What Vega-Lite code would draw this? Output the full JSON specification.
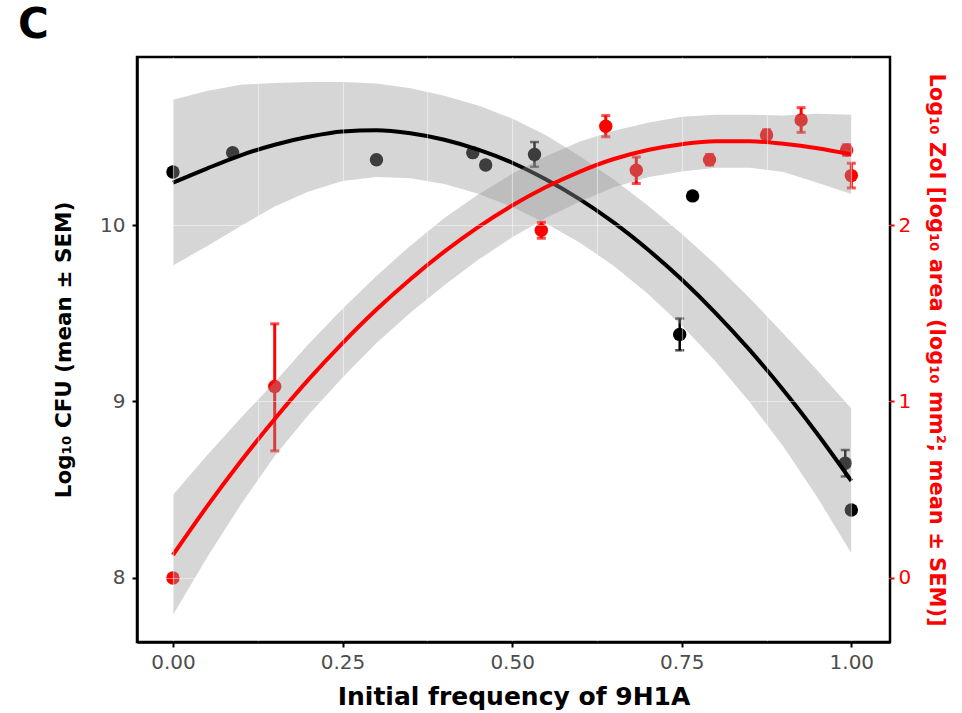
{
  "$schema": "https://vega.github.io/schema/vega-lite/v6.json",
  "width": 753,
  "height": 585,
  "autosize": "none",
  "padding": {"left": 137, "top": 57, "right": 72, "bottom": 71},
  "background": "white",
  "title": {"text": "C", "anchor": "start", "frame": "group", "fontSize": 42, "fontWeight": "bold", "font": "DejaVu Sans", "color": "#000000", "dx": -119, "dy": 40, "offset": 17, "baseline": "alphabetic"},
  "config": {"view": {"stroke": "#000000", "strokeWidth": 2.5}, "font": "DejaVu Sans"},
  "datasets": {
    "cfu_pts": [
      {"x": 0, "cfu": 10.30, "lo": 10.28, "hi": 10.32},
      {"x": 0.088, "cfu": 10.41, "lo": 10.39, "hi": 10.43},
      {"x": 0.30, "cfu": 10.37, "lo": 10.35, "hi": 10.39},
      {"x": 0.442, "cfu": 10.41, "lo": 10.39, "hi": 10.43},
      {"x": 0.461, "cfu": 10.34, "lo": 10.32, "hi": 10.36},
      {"x": 0.533, "cfu": 10.40, "lo": 10.33, "hi": 10.47},
      {"x": 0.747, "cfu": 9.38, "lo": 9.29, "hi": 9.47},
      {"x": 0.766, "cfu": 10.165, "lo": 10.145, "hi": 10.185},
      {"x": 0.991, "cfu": 8.65, "lo": 8.575, "hi": 8.725},
      {"x": 1.0, "cfu": 8.385, "lo": 8.365, "hi": 8.405}
    ],
    "zoi_pts": [
      {"x": 0, "zoi": 0.0, "lo": -0.02, "hi": 0.02},
      {"x": 0.15, "zoi": 1.085, "lo": 0.72, "hi": 1.44},
      {"x": 0.543, "zoi": 1.97, "lo": 1.925, "hi": 2.015},
      {"x": 0.638, "zoi": 2.56, "lo": 2.50, "hi": 2.62},
      {"x": 0.683, "zoi": 2.31, "lo": 2.235, "hi": 2.385},
      {"x": 0.791, "zoi": 2.37, "lo": 2.34, "hi": 2.40},
      {"x": 0.875, "zoi": 2.51, "lo": 2.48, "hi": 2.54},
      {"x": 0.926, "zoi": 2.595, "lo": 2.525, "hi": 2.665},
      {"x": 0.993, "zoi": 2.425, "lo": 2.395, "hi": 2.455},
      {"x": 1.0, "zoi": 2.28, "lo": 2.21, "hi": 2.35}
    ],
    "fit": [
      {"x": 0.00, "cfu": 10.240, "cfu_lo": 9.770, "cfu_hi": 10.710, "zoi": 0.130, "zoi_lo": -0.210, "zoi_hi": 0.470},
      {"x": 0.05, "cfu": 10.320, "cfu_lo": 9.880, "cfu_hi": 10.760, "zoi": 0.404, "zoi_lo": 0.114, "zoi_hi": 0.694},
      {"x": 0.10, "cfu": 10.395, "cfu_lo": 9.995, "cfu_hi": 10.795, "zoi": 0.661, "zoi_lo": 0.416, "zoi_hi": 0.906},
      {"x": 0.15, "cfu": 10.455, "cfu_lo": 10.105, "cfu_hi": 10.805, "zoi": 0.901, "zoi_lo": 0.691, "zoi_hi": 1.111},
      {"x": 0.20, "cfu": 10.500, "cfu_lo": 10.190, "cfu_hi": 10.810, "zoi": 1.125, "zoi_lo": 0.925, "zoi_hi": 1.325},
      {"x": 0.25, "cfu": 10.530, "cfu_lo": 10.250, "cfu_hi": 10.810, "zoi": 1.331, "zoi_lo": 1.136, "zoi_hi": 1.526},
      {"x": 0.30, "cfu": 10.537, "cfu_lo": 10.272, "cfu_hi": 10.802, "zoi": 1.521, "zoi_lo": 1.331, "zoi_hi": 1.711},
      {"x": 0.35, "cfu": 10.520, "cfu_lo": 10.265, "cfu_hi": 10.775, "zoi": 1.693, "zoi_lo": 1.503, "zoi_hi": 1.883},
      {"x": 0.40, "cfu": 10.483, "cfu_lo": 10.233, "cfu_hi": 10.733, "zoi": 1.849, "zoi_lo": 1.659, "zoi_hi": 2.039},
      {"x": 0.45, "cfu": 10.427, "cfu_lo": 10.177, "cfu_hi": 10.677, "zoi": 1.988, "zoi_lo": 1.803, "zoi_hi": 2.173},
      {"x": 0.50, "cfu": 10.353, "cfu_lo": 10.103, "cfu_hi": 10.603, "zoi": 2.110, "zoi_lo": 1.930, "zoi_hi": 2.290},
      {"x": 0.55, "cfu": 10.258, "cfu_lo": 10.008, "cfu_hi": 10.508, "zoi": 2.215, "zoi_lo": 2.040, "zoi_hi": 2.390},
      {"x": 0.60, "cfu": 10.145, "cfu_lo": 9.900, "cfu_hi": 10.390, "zoi": 2.303, "zoi_lo": 2.133, "zoi_hi": 2.473},
      {"x": 0.65, "cfu": 10.013, "cfu_lo": 9.768, "cfu_hi": 10.258, "zoi": 2.374, "zoi_lo": 2.214, "zoi_hi": 2.534},
      {"x": 0.70, "cfu": 9.861, "cfu_lo": 9.611, "cfu_hi": 10.111, "zoi": 2.425, "zoi_lo": 2.270, "zoi_hi": 2.580},
      {"x": 0.75, "cfu": 9.691, "cfu_lo": 9.431, "cfu_hi": 9.951, "zoi": 2.458, "zoi_lo": 2.303, "zoi_hi": 2.613},
      {"x": 0.80, "cfu": 9.501, "cfu_lo": 9.226, "cfu_hi": 9.776, "zoi": 2.475, "zoi_lo": 2.325, "zoi_hi": 2.625},
      {"x": 0.85, "cfu": 9.292, "cfu_lo": 8.997, "cfu_hi": 9.587, "zoi": 2.475, "zoi_lo": 2.325, "zoi_hi": 2.625},
      {"x": 0.90, "cfu": 9.064, "cfu_lo": 8.744, "cfu_hi": 9.384, "zoi": 2.460, "zoi_lo": 2.300, "zoi_hi": 2.620},
      {"x": 0.95, "cfu": 8.816, "cfu_lo": 8.456, "cfu_hi": 9.176, "zoi": 2.435, "zoi_lo": 2.240, "zoi_hi": 2.630},
      {"x": 1.00, "cfu": 8.550, "cfu_lo": 8.140, "cfu_hi": 8.960, "zoi": 2.400, "zoi_lo": 2.175, "zoi_hi": 2.625}
    ]
  },
  "layer": [
    {
      "layer": [
        {
          "data": {"name": "cfu_pts"},
          "mark": {"type": "errorbar", "color": "#000000", "thickness": 2.5, "ticks": {"size": 9}},
          "encoding": {
            "x": {"field": "x", "type": "quantitative", "title": "Initial frequency of 9H1A",
              "scale": {"domain": [-0.053, 1.057], "nice": false, "zero": false},
              "axis": {"values": [0, 0.125, 0.25, 0.375, 0.5, 0.625, 0.75, 0.875, 1], "format": ".2f",
                "labelExpr": "datum.value % 0.25 == 0 ? datum.label : ''", "labelOverlap": false,
                "labelFontSize": 20, "labelColor": "#4D4D4D", "labelFont": "DejaVu Sans", "labelPadding": 5,
                "tickColor": "#000000", "tickWidth": 2, "tickSize": 5,
                "tickOpacity": {"condition": {"test": "datum.value % 0.25 == 0", "value": 1}, "value": 0},
                "domainColor": "#000000", "domainWidth": 2.5,
                "grid": true, "gridColor": "#ffffff", "gridOpacity": 0.45, "gridWidth": 1.2, "zindex": 1,
                "titleFontSize": 25, "titleFontWeight": "bold", "titleColor": "#000000", "titleFont": "DejaVu Sans", "titlePadding": 12}},
            "y": {"field": "lo", "type": "quantitative", "title": "Log₁₀ CFU (mean ± SEM)",
              "scale": {"domain": [7.637, 10.952], "nice": false, "zero": false},
              "axis": {"values": [8, 8.5, 9, 9.5, 10, 10.5], "format": "d",
                "labelExpr": "datum.value % 1 == 0 ? datum.label : ''", "labelOverlap": false,
                "labelFontSize": 20, "labelColor": "#4D4D4D", "labelFont": "DejaVu Sans", "labelPadding": 7,
                "tickColor": "#000000", "tickWidth": 2, "tickSize": 5,
                "tickOpacity": {"condition": {"test": "datum.value % 1 == 0", "value": 1}, "value": 0},
                "domainColor": "#000000", "domainWidth": 2.5,
                "grid": true, "gridColor": "#ffffff", "gridOpacity": 0.45, "gridWidth": 1.2, "zindex": 1,
                "titleFontSize": 21.5, "titleFontWeight": "bold", "titleColor": "#000000", "titleFont": "DejaVu Sans", "titlePadding": 24}},
            "y2": {"field": "hi"}
          }
        },
        {
          "data": {"name": "cfu_pts"},
          "mark": {"type": "circle", "size": 180, "color": "#000000", "opacity": 1},
          "encoding": {
            "x": {"field": "x", "type": "quantitative", "title": "Initial frequency of 9H1A"},
            "y": {"field": "cfu", "type": "quantitative", "title": "Log₁₀ CFU (mean ± SEM)"}
          }
        },
        {
          "data": {"name": "fit"},
          "mark": {"type": "area", "color": "#999999", "opacity": 0.4},
          "encoding": {
            "x": {"field": "x", "type": "quantitative", "title": "Initial frequency of 9H1A"},
            "y": {"field": "cfu_lo", "type": "quantitative", "title": "Log₁₀ CFU (mean ± SEM)"},
            "y2": {"field": "cfu_hi"}
          }
        },
        {
          "data": {"name": "fit"},
          "mark": {"type": "line", "color": "#000000", "strokeWidth": 4, "interpolate": "monotone"},
          "encoding": {
            "x": {"field": "x", "type": "quantitative", "title": "Initial frequency of 9H1A"},
            "y": {"field": "cfu", "type": "quantitative", "title": "Log₁₀ CFU (mean ± SEM)"}
          }
        }
      ]
    },
    {
      "layer": [
        {
          "data": {"name": "zoi_pts"},
          "mark": {"type": "errorbar", "color": "#FF0000", "thickness": 3, "ticks": {"size": 9}},
          "encoding": {
            "x": {"field": "x", "type": "quantitative", "title": "Initial frequency of 9H1A"},
            "y": {"field": "lo", "type": "quantitative", "title": "Log₁₀ ZoI [log₁₀ area (log₁₀ mm²; mean ± SEM)]",
              "scale": {"domain": [-0.363, 2.952], "nice": false, "zero": false},
              "axis": {"orient": "right", "values": [0, 1, 2], "format": "d", "labelOverlap": false,
                "labelFontSize": 20, "labelColor": "#FF0000", "labelFont": "DejaVu Sans", "labelPadding": 4,
                "tickColor": "#FF0000", "tickWidth": 2, "tickSize": 4,
                "domain": false, "grid": false,
                "titleFontSize": 21, "titleFontWeight": "bold", "titleColor": "#FF0000", "titleFont": "DejaVu Sans", "titlePadding": 15}},
            "y2": {"field": "hi"}
          }
        },
        {
          "data": {"name": "zoi_pts"},
          "mark": {"type": "circle", "size": 180, "color": "#FF0000", "opacity": 1},
          "encoding": {
            "x": {"field": "x", "type": "quantitative", "title": "Initial frequency of 9H1A"},
            "y": {"field": "zoi", "type": "quantitative", "title": "Log₁₀ ZoI [log₁₀ area (log₁₀ mm²; mean ± SEM)]"}
          }
        },
        {
          "data": {"name": "fit"},
          "mark": {"type": "area", "color": "#999999", "opacity": 0.4},
          "encoding": {
            "x": {"field": "x", "type": "quantitative", "title": "Initial frequency of 9H1A"},
            "y": {"field": "zoi_lo", "type": "quantitative", "title": "Log₁₀ ZoI [log₁₀ area (log₁₀ mm²; mean ± SEM)]"},
            "y2": {"field": "zoi_hi"}
          }
        },
        {
          "data": {"name": "fit"},
          "mark": {"type": "line", "color": "#FF0000", "strokeWidth": 4, "interpolate": "monotone"},
          "encoding": {
            "x": {"field": "x", "type": "quantitative", "title": "Initial frequency of 9H1A"},
            "y": {"field": "zoi", "type": "quantitative", "title": "Log₁₀ ZoI [log₁₀ area (log₁₀ mm²; mean ± SEM)]"}
          }
        }
      ]
    }
  ],
  "resolve": {"scale": {"y": "independent"}, "axis": {"y": "independent"}}
}
